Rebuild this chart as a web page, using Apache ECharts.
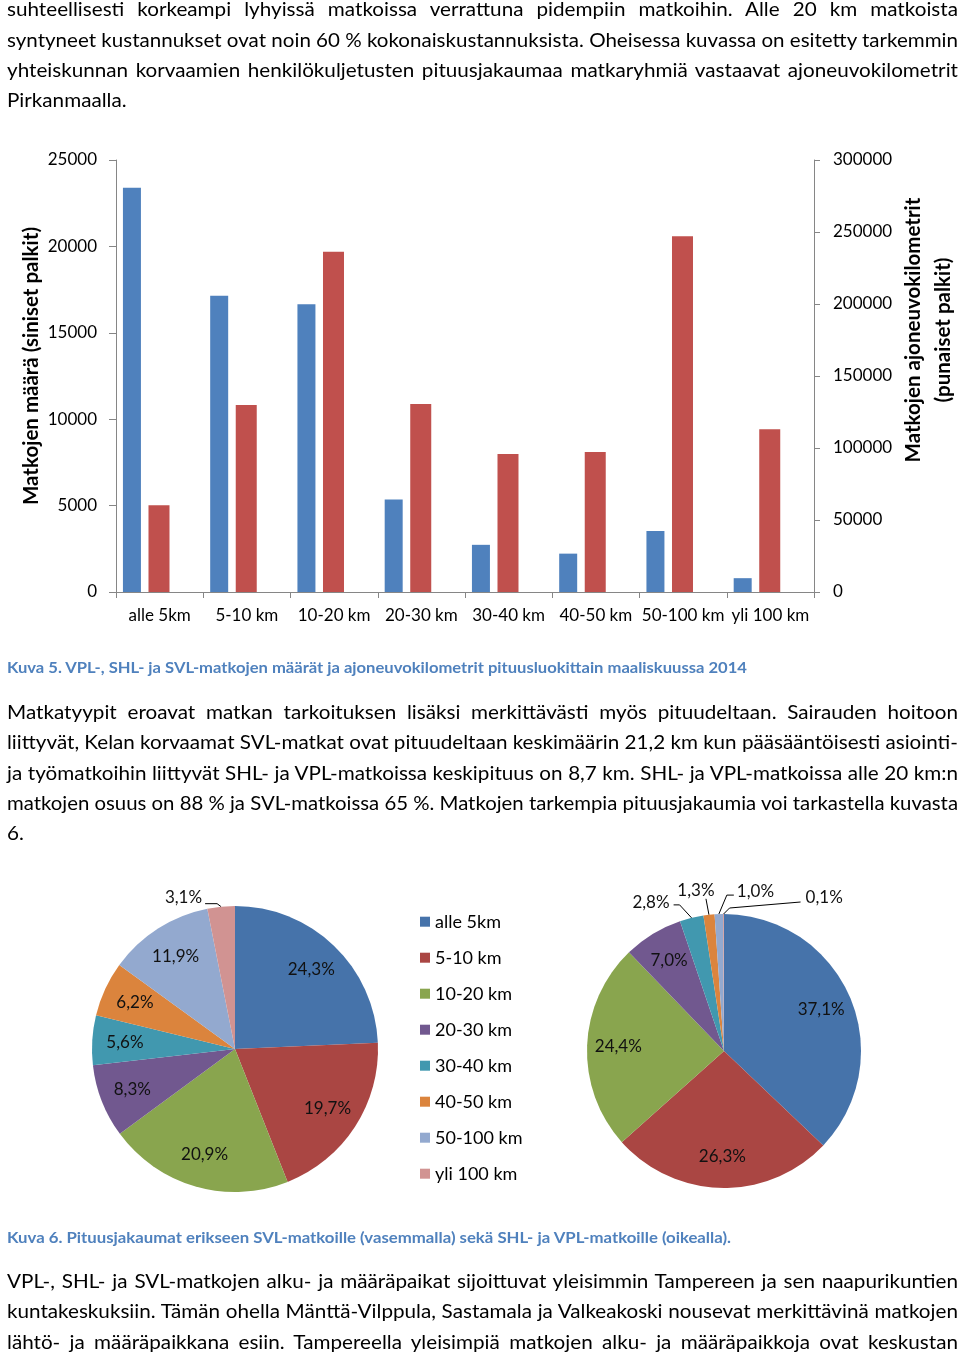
<!DOCTYPE html>
<html>
<head>
<meta charset="utf-8">
<script src="https://cdn.jsdelivr.net/npm/echarts@6/dist/echarts.min.js"></script>
<style>
html,body{margin:0;padding:0;background:#fff;}
body{width:960px;height:1354px;position:relative;overflow:hidden;font-family:Lato,"Open Sans",sans-serif;}
#chart{position:absolute;left:0;top:0;width:960px;height:1354px;}
.ln{position:absolute;left:7px;width:951px;height:30.4px;line-height:30.4px;font-size:19.5px;color:#000;white-space:nowrap;z-index:2;}
.ln span{display:inline-block;transform-origin:0 50%;}
.cap{position:absolute;left:7px;height:20px;line-height:20px;font-size:15px;font-weight:bold;color:#4F81BD;white-space:nowrap;z-index:2;}
.cap span{display:inline-block;transform-origin:0 50%;}
</style>
</head>
<body>
<div id="chart"></div>
<script>
// ---------------- data ----------------
const categories = ['alle 5km', '5-10 km', '10-20 km', '20-30 km', '30-40 km', '40-50 km', '50-100 km', 'yli 100 km'];
const tripCounts = [23400, 17150, 16650, 5350, 2730, 2220, 3530, 800];          // blue bars, left axis
const vehicleKm  = [60200, 129900, 236300, 130600, 95800, 97200, 247000, 113000]; // red bars, right axis
const tripAxis = { min: 0, max: 25000, interval: 5000 };
const kmAxis   = { min: 0, max: 300000, interval: 50000 };
const svlShares    = [24.3, 19.7, 20.9, 8.3, 5.6, 6.2, 11.9, 3.1];   // left pie (%)
const shlVplShares = [37.1, 26.3, 24.4, 7.0, 2.8, 1.3, 1.0, 0.1];   // right pie (%)

const leftAxisTitle = 'Matkojen määrä (siniset palkit)';
const rightAxisTitle = 'Matkojen ajoneuvokilometrit\n(punaiset palkit)';

const paragraphs = [
  { baseline: 14.5, last: true, lines: [
    'suhteellisesti korkeampi lyhyissä matkoissa verrattuna pidempiin matkoihin. Alle 20 km matkoista',
    'syntyneet kustannukset ovat noin 60 % kokonaiskustannuksista. Oheisessa kuvassa on esitetty tarkemmin',
    'yhteiskunnan korvaamien henkilökuljetusten pituusjakaumaa matkaryhmiä vastaavat ajoneuvokilometrit',
    'Pirkanmaalla.' ] },
  { baseline: 717, last: true, lines: [
    'Matkatyypit eroavat matkan tarkoituksen lisäksi merkittävästi myös pituudeltaan. Sairauden hoitoon',
    'liittyvät, Kelan korvaamat SVL-matkat ovat pituudeltaan keskimäärin 21,2 km kun pääsääntöisesti asiointi-',
    'ja työmatkoihin liittyvät SHL- ja VPL-matkoissa keskipituus on 8,7 km. SHL- ja VPL-matkoissa alle 20 km:n',
    'matkojen osuus on 88 % ja SVL-matkoissa 65 %. Matkojen tarkempia pituusjakaumia voi tarkastella kuvasta',
    '6.' ] },
  { baseline: 1286, last: false, lines: [
    'VPL-, SHL- ja SVL-matkojen alku- ja määräpaikat sijoittuvat yleisimmin Tampereen ja sen naapurikuntien',
    'kuntakeskuksiin. Tämän ohella Mänttä-Vilppula, Sastamala ja Valkeakoski nousevat merkittävinä matkojen',
    'lähtö- ja määräpaikkana esiin. Tampereella yleisimpiä matkojen alku- ja määräpaikkoja ovat keskustan' ] }
];
const captions = [
  { baseline: 672.5, width: 740, text: 'Kuva 5. VPL-, SHL- ja SVL-matkojen määrät ja ajoneuvokilometrit pituusluokittain maaliskuussa 2014' },
  { baseline: 1242.5, width: 724, text: 'Kuva 6. Pituusjakaumat erikseen SVL-matkoille (vasemmalla) sekä SHL- ja VPL-matkoille (oikealla).' }
];

// ---------------- HTML text ----------------
const LINE_W = 951, LH = 30.4, BASE_OFF = 20.3, CAP_OFF = 15.8, STRETCH = 1.06;
paragraphs.forEach(p => {
  p.lines.forEach((t, i) => {
    const d = document.createElement('div');
    d.className = 'ln';
    d.style.top = (p.baseline + i * LH - BASE_OFF) + 'px';
    const s = document.createElement('span');
    s.textContent = t;
    d.appendChild(s);
    document.body.appendChild(d);
    const w = s.getBoundingClientRect().width;
    const isLast = p.last && i === p.lines.length - 1;
    if (w * STRETCH > LINE_W) {
      s.style.transform = 'scaleX(' + (LINE_W / w) + ')';
    } else {
      s.style.transform = 'scaleX(' + STRETCH + ')';
      if (!isLast) {
        const n = (t.match(/ /g) || []).length;
        if (n > 0) s.style.wordSpacing = ((LINE_W / STRETCH - w) / n) + 'px';
      }
    }
  });
});
captions.forEach(c => {
  const d = document.createElement('div');
  d.className = 'cap';
  d.style.top = (c.baseline - CAP_OFF) + 'px';
  const s = document.createElement('span');
  s.textContent = c.text;
  d.appendChild(s);
  document.body.appendChild(d);
  const w = s.getBoundingClientRect().width;
  s.style.transform = 'scaleX(' + (c.width / w) + ')';
});

// ---------------- chart ----------------
const FONT = 'Lato';
const pieColors = ['#4673AA', '#AA4643', '#89A54E', '#71588F', '#4198AF', '#DB843D', '#93A9CF', '#D19392'];
const leftPie = { center: [235, 1049], r: 143 };
const rightPie = { center: [724, 1051], r: 137 };
const fmtPct = v => v.toFixed(1).replace('.', ',') + '%';

// outside-label placement (offsets from the slice's mid-angle edge point)
const leftOutside = {
  7: { bend: [-4, -3], end: [-16, -3], text: [-19, -9], align: 'right' }
};
const rightOutside = {
  4: { bend: [-12, -13], end: [-18, -13], text: [-22, -15], align: 'right' },
  5: { bend: [-3, -16], end: [-3, -16], text: [-13, -24], align: 'center' },
  6: { bend: [8, -19], end: [15, -19], text: [18, -23], align: 'left' },
  7: { bend: [6, -6], end: [77, -12], text: [82, -16], align: 'left' }
};

function edgePoint(shares, idx, pie) {
  const total = shares.reduce((a, b) => a + b, 0);
  let cum = 0;
  for (let i = 0; i < idx; i++) cum += shares[i];
  const a = (cum + shares[idx] / 2) / total * Math.PI * 2;
  return [pie.center[0] + pie.r * Math.sin(a), pie.center[1] - pie.r * Math.cos(a)];
}
function makeLabelLayout(shares, pie, spec) {
  return function (params) {
    const s = spec[params.dataIndex];
    if (!s) return {};
    const e = edgePoint(shares, params.dataIndex, pie);
    return {
      x: e[0] + s.text[0], y: e[1] + s.text[1],
      align: s.align, verticalAlign: 'middle',
      labelLinePoints: [e, [e[0] + s.bend[0], e[1] + s.bend[1]], [e[0] + s.end[0], e[1] + s.end[1]]]
    };
  };
}
function pieData(shares) {
  return categories.map((n, i) => ({ name: n, value: shares[i], itemStyle: { color: pieColors[i] } }));
}
function labelData(shares, spec) {
  return categories.map((n, i) => {
    const item = { name: n, value: shares[i] };
    if (spec[i]) {
      item.label = { position: 'outside' };
      item.labelLine = { show: true };
    }
    return item;
  });
}
function basePie(pie, shares) {
  return {
    type: 'pie', center: pie.center, radius: pie.r, startAngle: 90, clockwise: true,
    data: pieData(shares), label: { show: false }, labelLine: { show: false },
    silent: true, emphasis: { disabled: true }, animation: false
  };
}
function labelPie(pie, shares, spec) {
  return {
    type: 'pie', center: pie.center, radius: [pie.r * 0.5, pie.r], startAngle: 90, clockwise: true,
    data: labelData(shares, spec), avoidLabelOverlap: false, silent: true, emphasis: { disabled: true },
    animation: false, legendHoverLink: false,
    itemStyle: { color: 'rgba(0,0,0,0)' },
    label: { show: true, position: 'inside', formatter: p => fmtPct(p.value), fontFamily: FONT, fontSize: 17, color: '#111' },
    labelLine: { show: false, length: 5, length2: 5, smooth: false, lineStyle: { color: '#000', width: 1 } },
    labelLayout: makeLabelLayout(shares, pie, spec)
  };
}

const axisGray = '#868686';
const plain = v => String(v);
const chart = echarts.init(document.getElementById('chart'), null, { renderer: 'canvas' });
chart.setOption({
  animation: false,
  textStyle: { fontFamily: FONT },
  grid: { left: 116, top: 160, width: 698, height: 432 },
  xAxis: {
    type: 'category', data: categories, boundaryGap: true,
    axisLine: { lineStyle: { color: axisGray } },
    axisTick: { show: true, length: 6, alignWithLabel: false, lineStyle: { color: axisGray } },
    axisLabel: { interval: 0, color: '#000', fontSize: 17, fontFamily: FONT, margin: 15 }
  },
  yAxis: [
    { type: 'value', position: 'left', min: tripAxis.min, max: tripAxis.max, interval: tripAxis.interval,
      axisLine: { show: true, lineStyle: { color: axisGray } },
      axisTick: { show: true, length: 7, lineStyle: { color: axisGray } },
      splitLine: { show: false },
      axisLabel: { color: '#000', fontSize: 17, fontFamily: FONT, margin: 19, formatter: plain } },
    { type: 'value', position: 'right', min: kmAxis.min, max: kmAxis.max, interval: kmAxis.interval,
      axisLine: { show: true, lineStyle: { color: axisGray } },
      axisTick: { show: true, length: 6, lineStyle: { color: axisGray } },
      splitLine: { show: false },
      axisLabel: { color: '#000', fontSize: 17, fontFamily: FONT, margin: 19, formatter: plain } }
  ],
  legend: {
    data: categories, orient: 'vertical', left: 420, top: 911.7, padding: 0,
    icon: 'rect', itemWidth: 10, itemHeight: 10, itemGap: 16,
    textStyle: { fontFamily: FONT, fontSize: 18, color: '#000', lineHeight: 20 },
    selectedMode: false
  },
  graphic: [
    { type: 'text', x: 31, y: 366, rotation: Math.PI / 2,
      style: { text: leftAxisTitle, fontFamily: FONT, fontWeight: 'bold', fontSize: 20.5, fill: '#000', align: 'center', verticalAlign: 'middle' } },
    { type: 'text', x: 928, y: 330, rotation: Math.PI / 2,
      style: { text: rightAxisTitle, fontFamily: FONT, fontWeight: 'bold', fontSize: 20.5, lineHeight: 30, fill: '#000', align: 'center', verticalAlign: 'middle' } }
  ],
  series: [
    { type: 'bar', name: 'Matkojen määrä', data: tripCounts, yAxisIndex: 0, barWidth: 18, barGap: '42%',
      itemStyle: { color: '#4F81BD' }, silent: true },
    { type: 'bar', name: 'Ajoneuvokilometrit', data: vehicleKm, yAxisIndex: 1, barWidth: 21, barGap: '42%',
      itemStyle: { color: '#C0504D' }, silent: true },
    { type: 'bar', name: 'tyhjä', data: [], yAxisIndex: 0, barWidth: 18, barGap: '42%', silent: true },
    basePie(leftPie, svlShares),
    basePie(rightPie, shlVplShares),
    labelPie(leftPie, svlShares, leftOutside),
    labelPie(rightPie, shlVplShares, rightOutside)
  ]
});
</script>
</body>
</html>
